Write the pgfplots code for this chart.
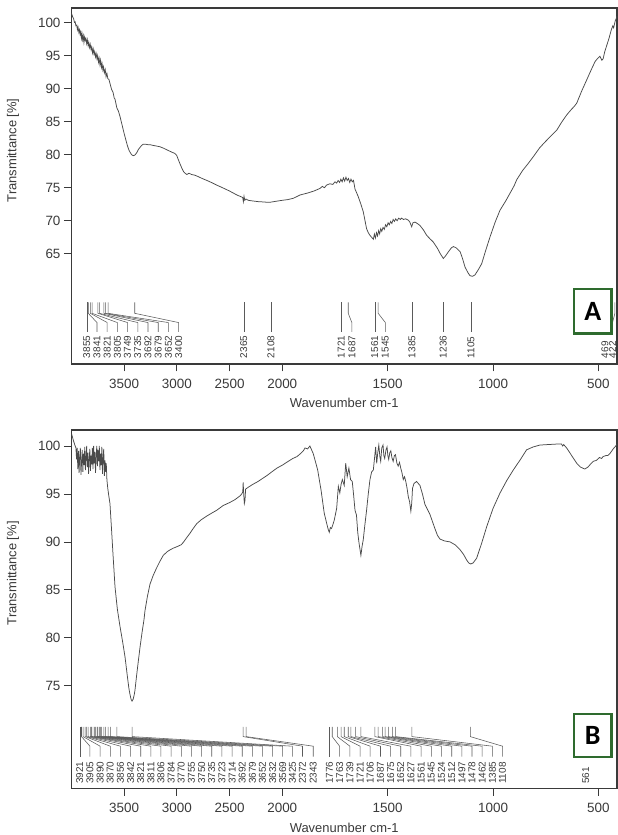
\documentclass[border=0pt]{standalone}
\usepackage{pgfplots}
\pgfplotsset{compat=1.18}
\usepackage{fontspec}
\setmainfont{Liberation Sans}
\newfontfamily\boxfont{Carlito}
\definecolor{axcol}{HTML}{3A3A3A}
\definecolor{curvecol}{HTML}{4A4A4A}
\definecolor{pkcol}{HTML}{5A5A5A}
\definecolor{boxgreen}{HTML}{2E6B2E}

\pgfplotsset{
  ftir/.style={
    scale only axis,
    width=545.5bp,
    x coord trafo/.code={\pgfmathparse{ifthenelse(##1>2000,2000+(##1-2000)/2,##1)}},
    xmin=412, xmax=4000, x dir=reverse,
    xtick={500,1000,1500,2000,2500,3000,3500},
    xticklabels={500,1000,1500,2000,2500,3000,3500},
    axis line style={axcol, line width=1.1bp},
    tick style={axcol, line width=0.8bp},
    major tick length=7.5bp,
    tick align=outside,
    xtick pos=bottom, ytick pos=left,
    /pgf/number format/assume math mode=true,
    tick label style={font=\fontsize{13.5}{15}\selectfont, text=axcol},
    xticklabel style={yshift=-4bp},
    xlabel={Wavenumber cm-1},
    ylabel={Transmittance [\%]},
    every axis y label/.style={at={(axis description cs:-0.107,0.6)}, rotate=90, anchor=center, font=\fontsize{13}{15}\selectfont, text=axcol},
    every axis x label/.style={at={(axis description cs:0.5,-0.11)}, anchor=center, font=\fontsize{13}{15}\selectfont, text=axcol},
  },
}
\tikzset{
  pkline/.style={pkcol, line width=0.55bp},
  pklab/.style={rotate=90, anchor=west, inner sep=0pt, font=\fontsize{10}{10}\selectfont, text=axcol},
}
% peak markers, panel A: #1 peak, #2 label position
\newcommand{\pkA}[2]{\draw[pkline] (axis cs:#1,57.65) -- (axis cs:#1,56.0) -- (axis cs:#2,54.6) -- (axis cs:#2,53.2); \node[pklab] at (axis cs:#2,49.2) {#1};}
% peak markers, panel B
\newcommand{\pkB}[2]{\draw[pkline] (axis cs:#1,70.72) -- (axis cs:#1,69.7) -- (axis cs:#2,68.7) -- (axis cs:#2,67.6); \node[pklab] at (axis cs:#2,64.75) {#1};}

\begin{document}
\begin{tikzpicture}
\useasboundingbox (0,0) rectangle (618bp,835bp);

% ---------------- Panel A ----------------
\begin{axis}[ftir, at={(71.5bp,471bp)}, anchor=south west,
  height=356bp, ymin=48.33, ymax=102.2, ytick={65,70,75,80,85,90,95,100}]
\addplot[curvecol, line width=0.75bp] coordinates {
(4000,101.4)(3990,100.9)(3980,100.6)(3972,100.0)(3965,100.1)(3958,99.5)(3950,99.6)(3944,98.9)(3938,99.3)(3930,98.5)(3924,98.9)(3918,98.2)(3912,98.6)(3906,97.6)(3900,98.3)(3894,97.4)(3888,98.0)(3882,97.0)(3876,97.8)(3870,97.3)(3864,97.6)(3856,96.8)(3850,97.4)(3842,96.5)(3836,97.0)(3828,96.2)(3822,96.7)(3814,95.9)(3808,96.3)(3800,95.4)(3794,96.0)(3786,95.2)(3780,95.6)(3772,94.8)(3766,95.3)(3758,94.5)(3752,95.0)(3744,94.0)(3738,94.6)(3730,93.6)(3724,94.3)(3716,93.2)(3710,93.8)(3702,92.8)(3696,93.3)(3688,92.4)(3680,92.9)(3672,91.8)(3664,92.3)(3655,91.5)(3645,91.4)(3635,90.8)(3620,89.9)(3605,89.4)(3595,88.6)(3587,88.4)(3570,87.1)(3555,86.6)(3540,85.8)(3520,84.5)(3505,83.5)(3492,82.7)(3470,81.4)(3455,80.7)(3445,80.4)(3430,80.0)(3414,79.85)(3398,79.95)(3381,80.3)(3365,80.8)(3350,81.1)(3335,81.4)(3319,81.6)(3300,81.6)(3270,81.5)(3250,81.5)(3224,81.4)(3190,81.3)(3160,81.2)(3129,81.0)(3090,80.7)(3050,80.4)(3020,80.2)(3002,79.9)(2985,79.2)(2970,78.6)(2954,78.0)(2935,77.4)(2923,77.2)(2905,77.0)(2885,77.2)(2860,77.0)(2830,76.9)(2800,76.7)(2760,76.4)(2700,76.0)(2660,75.7)(2622,75.4)(2580,75.1)(2540,74.8)(2500,74.5)(2465,74.2)(2430,73.9)(2400,73.7)(2385,73.6)(2375,73.5)(2369,72.9)(2363,73.7)(2356,73.1)(2345,73.3)(2323,73.1)(2280,73.0)(2230,72.9)(2180,72.85)(2140,72.8)(2117,72.8)(2080,72.9)(2040,73.0)(2000,73.1)(1975,73.2)(1948,73.4)(1916,73.9)(1880,74.2)(1850,74.5)(1821,74.9)(1810,75.2)(1800,75.0)(1790,75.4)(1774,75.6)(1760,75.5)(1750,75.9)(1742,75.7)(1735,76.1)(1728,75.8)(1722,76.3)(1716,75.9)(1710,76.5)(1704,76.0)(1698,76.6)(1692,76.1)(1686,76.4)(1680,75.8)(1674,76.3)(1668,75.9)(1662,76.1)(1655,74.8)(1648,74.3)(1639,73.6)(1628,72.6)(1616,71.4)(1600,68.8)(1592,68.2)(1584,67.8)(1576,67.5)(1568,67.2)(1563,68.0)(1558,67.4)(1553,68.2)(1548,67.7)(1543,68.5)(1538,68.0)(1533,68.8)(1528,68.4)(1522,69.0)(1516,68.7)(1510,69.4)(1504,69.1)(1498,69.7)(1492,69.4)(1486,69.9)(1480,69.6)(1474,70.2)(1468,69.9)(1462,70.3)(1455,70.0)(1448,70.4)(1440,70.2)(1434,70.4)(1425,70.2)(1415,70.3)(1402,70.1)(1395,69.8)(1390,69.4)(1386,69.1)(1380,69.7)(1370,69.8)(1360,69.6)(1347,69.3)(1330,68.6)(1315,67.8)(1300,67.3)(1284,66.8)(1265,65.9)(1250,65.0)(1236,64.3)(1225,64.7)(1212,65.3)(1198,65.9)(1188,66.1)(1175,65.9)(1165,65.6)(1156,65.3)(1145,64.3)(1133,63.0)(1120,62.2)(1110,61.7)(1098,61.6)(1086,61.8)(1070,62.6)(1054,63.5)(1035,65.5)(1014,67.6)(990,69.8)(967,71.6)(940,73.0)(919,74.2)(900,75.3)(888,76.2)(860,77.6)(835,78.6)(809,79.7)(780,81.0)(760,81.7)(745,82.2)(720,83.0)(698,83.7)(675,84.9)(651,86.0)(630,86.8)(615,87.3)(603,87.8)(580,89.6)(556,91.3)(535,92.8)(516,94.1)(503,94.6)(493,94.9)(484,94.3)(478,94.5)(470,95.6)(462,96.4)(450,97.6)(439,98.9)(432,99.5)(428,99.2)(420,100.3)(414,100.7)(412,101.0)
};
\pkA{3855}{3855}\pkA{3841}{3758}\pkA{3821}{3661}\pkA{3805}{3565}\pkA{3749}{3468}
\pkA{3735}{3371}\pkA{3692}{3274}\pkA{3679}{3177}\pkA{3652}{3081}\pkA{3400}{2984}
\pkA{2365}{2365}\pkA{2108}{2108}
\pkA{1721}{1721}\pkA{1687}{1670}\pkA{1561}{1561}\pkA{1545}{1511}
\pkA{1385}{1385}\pkA{1236}{1236}\pkA{1105}{1105}\pkA{469}{469}\pkA{422}{433}
\draw[boxgreen, line width=2.5bp, fill=white] (axis description cs:0.921,0.086) rectangle (axis description cs:0.990,0.21);
\node[text=black, font=\boxfont\bfseries\fontsize{28}{28}\selectfont] at (axis description cs:0.9555,0.148) {A};
\end{axis}

% ---------------- Panel B ----------------
\begin{axis}[ftir, at={(71.5bp,46.7bp)}, anchor=south west,
  height=358.3bp, ymin=64.31, ymax=101.67, ytick={75,80,85,90,95,100}]
\addplot[curvecol, line width=0.75bp] coordinates {
(4000,101.3)(3990,100.9)(3980,100.5)(3968,100.1)(3958,99.8)(3952,98.6)(3946,99.8)(3940,97.6)(3934,99.5)(3928,97.2)(3922,98.9)(3916,99.8)(3910,97.0)(3904,98.4)(3898,99.6)(3892,97.3)(3886,99.2)(3880,98.0)(3874,99.9)(3868,97.5)(3862,98.8)(3856,100.0)(3850,97.8)(3844,99.3)(3838,97.1)(3832,98.6)(3826,99.7)(3820,97.4)(3814,99.0)(3808,98.1)(3802,99.8)(3796,97.6)(3790,100.0)(3784,98.2)(3778,99.4)(3772,97.2)(3766,98.9)(3760,100.0)(3754,97.9)(3748,99.6)(3742,98.4)(3736,100.0)(3730,97.5)(3724,99.2)(3718,98.0)(3712,99.9)(3706,97.1)(3700,98.8)(3694,99.7)(3688,96.9)(3682,98.5)(3676,97.3)(3670,98.2)(3664,96.5)(3656,95.6)(3646,94.8)(3635,94.0)(3620,91.3)(3605,88.5)(3587,85.3)(3565,83.0)(3540,81.2)(3515,79.6)(3492,78.0)(3470,76.0)(3455,74.7)(3445,74.1)(3435,73.6)(3426,73.4)(3415,73.6)(3406,74.0)(3398,74.5)(3385,75.8)(3370,77.2)(3350,79.0)(3330,80.6)(3312,81.9)(3303,82.8)(3280,84.3)(3255,85.6)(3225,86.5)(3192,87.3)(3160,88.0)(3129,88.6)(3090,89.0)(3060,89.2)(3034,89.35)(3000,89.5)(2960,89.7)(2939,89.95)(2910,90.4)(2876,90.9)(2845,91.4)(2812,91.9)(2770,92.3)(2716,92.7)(2670,93.0)(2622,93.3)(2560,93.8)(2500,94.1)(2450,94.4)(2401,94.8)(2385,95.0)(2375,95.2)(2371,96.2)(2366,95.0)(2360,94.0)(2354,94.3)(2348,95.5)(2323,95.7)(2280,96.0)(2230,96.3)(2190,96.6)(2148,96.9)(2100,97.3)(2050,97.7)(2000,98.0)(1979,98.3)(1950,98.7)(1930,98.9)(1914,99.2)(1900,99.5)(1892,99.8)(1880,99.7)(1869,100.0)(1861,99.6)(1853,99.2)(1843,98.4)(1832,97.5)(1816,95.4)(1801,93.0)(1790,92.0)(1782,91.3)(1777,91.0)(1772,91.5)(1766,91.4)(1760,91.8)(1753,92.3)(1742,93.5)(1734,95.8)(1727,95.1)(1721,96.0)(1715,96.5)(1706,95.9)(1699,98.2)(1692,96.8)(1684,97.7)(1676,96.5)(1668,96.3)(1662,95.0)(1655,93.3)(1648,92.8)(1642,91.0)(1636,89.9)(1627,88.6)(1621,89.6)(1616,90.2)(1608,91.8)(1600,93.3)(1592,95.0)(1584,96.5)(1576,97.3)(1568,97.5)(1562,98.8)(1557,99.9)(1552,98.2)(1547,99.3)(1542,100.1)(1537,98.9)(1533,98.4)(1528,99.8)(1522,100.1)(1518,99.0)(1514,98.7)(1508,99.6)(1503,99.9)(1499,99.0)(1495,98.6)(1490,99.3)(1485,99.5)(1480,98.8)(1474,98.4)(1468,99.0)(1463,99.1)(1456,98.2)(1450,97.9)(1444,98.3)(1438,97.7)(1432,97.2)(1426,96.5)(1420,96.8)(1414,96.3)(1408,95.6)(1402,94.7)(1396,94.2)(1390,93.2)(1386,94.0)(1382,95.6)(1375,96.1)(1363,96.3)(1355,96.1)(1347,95.9)(1335,95.0)(1323,93.9)(1300,92.9)(1276,91.4)(1264,90.7)(1252,90.3)(1230,90.1)(1204,90.0)(1180,89.7)(1157,89.2)(1140,88.7)(1125,88.1)(1115,87.8)(1106,87.7)(1095,87.8)(1078,88.3)(1055,89.8)(1030,91.6)(1000,93.5)(967,95.1)(935,96.4)(904,97.5)(870,98.6)(841,99.6)(810,99.9)(778,100.1)(740,100.15)(700,100.2)(675,100.2)(670,100.0)(665,100.15)(651,99.8)(630,99.1)(615,98.6)(603,98.2)(585,97.8)(565,97.6)(550,97.8)(538,98.1)(525,98.4)(510,98.5)(495,98.8)(485,98.7)(478,98.9)(465,99.0)(456,99.0)(446,99.2)(430,99.7)(414,100.1)(412,100.2)
};
\pkB{3921}{3921}\pkB{3905}{3825}\pkB{3890}{3728}\pkB{3870}{3632}\pkB{3856}{3536}
\pkB{3842}{3439}\pkB{3821}{3343}\pkB{3811}{3247}\pkB{3806}{3151}\pkB{3784}{3054}
\pkB{3770}{2958}\pkB{3755}{2862}\pkB{3750}{2765}\pkB{3735}{2669}\pkB{3723}{2573}
\pkB{3714}{2476}\pkB{3692}{2380}\pkB{3679}{2284}\pkB{3652}{2188}\pkB{3632}{2091}
\pkB{3569}{1998}\pkB{3425}{1952}\pkB{2372}{1904}\pkB{2343}{1853}
\pkB{1776}{1776}\pkB{1763}{1728}\pkB{1739}{1679}\pkB{1721}{1631}\pkB{1706}{1583}
\pkB{1687}{1534}\pkB{1675}{1486}\pkB{1652}{1438}\pkB{1627}{1390}\pkB{1561}{1341}
\pkB{1545}{1293}\pkB{1524}{1245}\pkB{1512}{1196}\pkB{1497}{1148}\pkB{1478}{1100}
\pkB{1462}{1052}\pkB{1385}{1003}\pkB{1108}{955}
\node[pklab] at (axis cs:561,64.75) {561};
\draw[boxgreen, line width=2.5bp, fill=white] (axis description cs:0.921,0.088) rectangle (axis description cs:0.990,0.2075);
\node[text=black, font=\boxfont\bfseries\fontsize{28}{28}\selectfont] at (axis description cs:0.9555,0.148) {B};
\end{axis}
\end{tikzpicture}
\end{document}
